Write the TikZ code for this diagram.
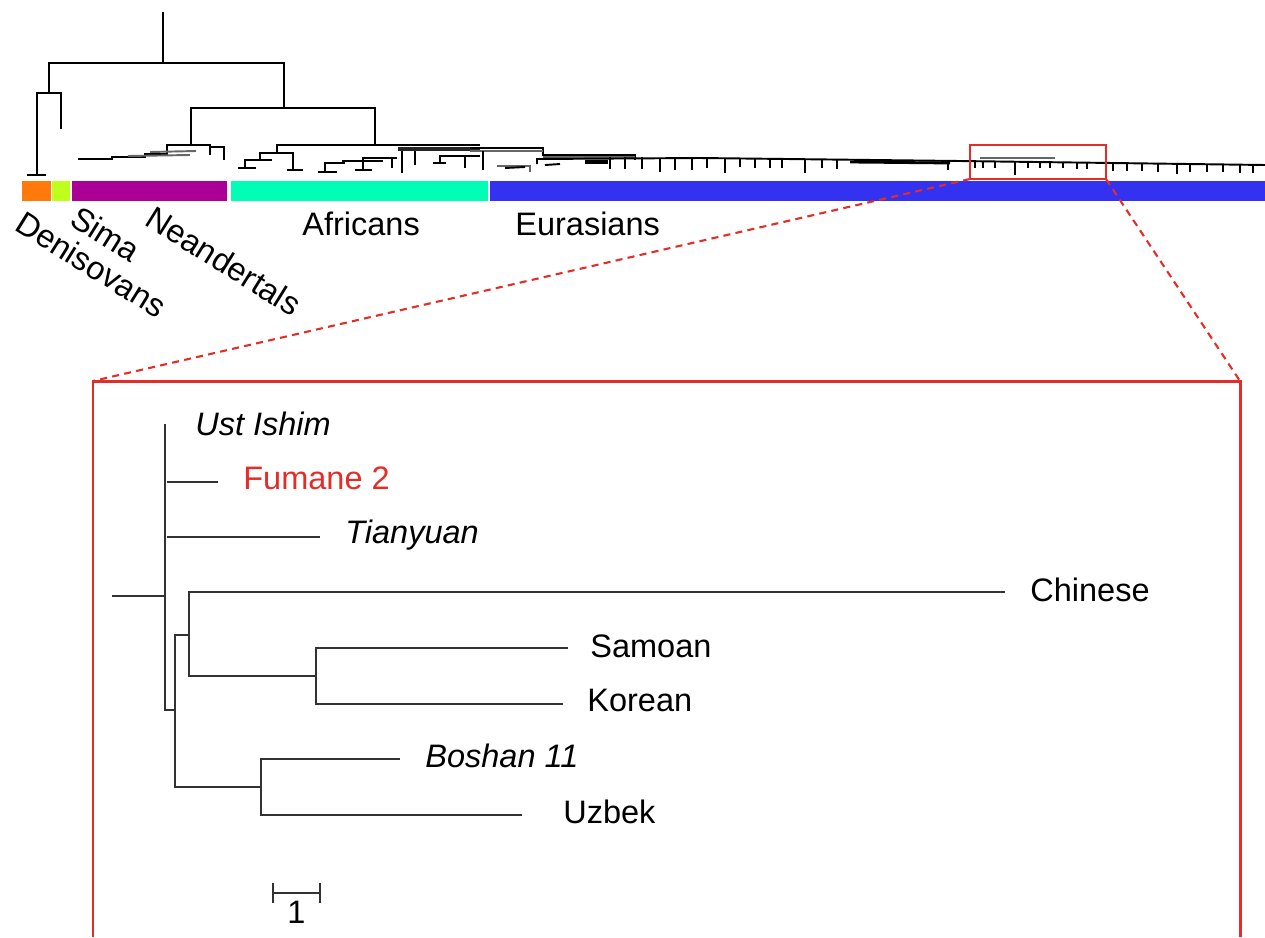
\documentclass[tikz,border=0pt]{standalone}
\usepackage{fontspec}
\setmainfont{Liberation Sans}
\usepackage{tikz}
\usetikzlibrary{arrows.meta,positioning,calc}

\definecolor{denicol}{RGB}{255,122,10}
\definecolor{simacol}{RGB}{190,255,30}
\definecolor{neancol}{RGB}{170,0,150}
\definecolor{africol}{RGB}{0,255,180}
\definecolor{eurcol}{RGB}{50,50,240}
\definecolor{zoomred}{RGB}{228,45,40}
\definecolor{treegray}{RGB}{50,50,50}

\tikzset{
  twig/.style={line width=1.1pt, black},
  branch/.style={line width=1.3pt, treegray},
  leaf/.style={anchor=base west, inner sep=0pt, font=\fontsize{18.5pt}{22pt}\selectfont},
  leafit/.style={leaf, font=\fontsize{18.5pt}{22pt}\selectfont\itshape},
  grouplabel/.style={leaf, rotate=-32},
  zoomline/.style={zoomred, line width=1.2pt, dash pattern=on 4pt off 3pt},
}

\begin{document}
\begin{tikzpicture}[x=0.02cm, y=-0.02cm]
\useasboundingbox (0,0) rectangle (1265,937);
% Deep splits of the big tree
\draw[twig] (163,12) -- (163,63);
\draw[twig] (49,93) -- (49,63) -- (284,63) -- (284,108);
\draw[twig] (37,175) -- (37,93) -- (61,93) -- (61,129);
\draw[twig] (27,175) -- (46,175);
\draw[twig] (191,145) -- (191,108) -- (375,108) -- (375,145);
% Neandertals
\draw[twig] (78,159) -- (112,159) -- (112,157) -- (145,157) -- (145,154) -- (167,154) -- (167,145) -- (210,145) -- (210,155);
\draw[twig] (210,147) -- (224,147) -- (224,160);
\draw[twig, black!60] (128,156) -- (190,155);
\draw[twig, black!60] (150,152) -- (196,151);
% Africans
\draw[twig] (277,153) -- (277,145) -- (480,145);
\draw[twig] (260,160) -- (260,153) -- (293,153) -- (293,170);
\draw[twig] (287,170) -- (303,170);
\draw[twig] (245,167) -- (245,160) -- (272,160);
\draw[twig] (238,168) -- (256,168);
\draw[twig] (325,172) -- (325,163) -- (345,163);
\draw[twig] (318,172) -- (337,172);
\draw[twig] (343,163) -- (343,161) -- (383,161);
\draw[twig] (363,170) -- (363,158) -- (397,158);
\draw[twig] (355,170) -- (372,170);
\draw[twig] (392,168) -- (392,158);
\draw[twig] (402,173) -- (402,148);
\draw[twig] (415,165) -- (415,148);
\draw[twig, line width=1.9pt, black!85] (398,149) -- (480,149);
\draw[twig] (440,163) -- (440,156) -- (480,156);
\draw[twig] (465,168) -- (465,156);
\draw[twig] (433,163) -- (446,163);
% Eurasians
\draw[twig] (470,148) -- (543,148) -- (543,155) -- (635,155) -- (635,160);
\draw[twig, black!60] (470,151) -- (543,151);
\draw[twig, black!60] (543,157) -- (635,157);
\draw[twig] (483,151) -- (483,170);
\draw[twig] (537,164) -- (537,159) -- (700,158) -- (960,161) -- (1265,165);
\draw[twig, black!60] (497,166) -- (530,166) -- (530,172);
\draw[twig] (505,168) -- (525,167);
\draw[twig] (545,165) -- (560,164);
\draw[twig, line width=1.8pt] (585,162) -- (608,162);
\draw[twig, line width=1.6pt] (850,162) -- (950,163);
\draw[twig, black!60] (980,158) -- (1055,158);
\foreach \x/\l in {610/12,625/12,642/12,660/14,675/12,692/12,707/10,725/15,740/9,755/9,770/9,782/9,
                   805/14,822/9,837/9,948/9,975/7,983/7,995/7,1015/13,1028/6,1040/6,1050/6,1063/6,
                   1077/6,1087/6,1113/8,1127/8,1142/8,1158/8,1177/10,1190/8,1207/8,1223/8,1240/8,1253/8} {
  \pgfmathsetmacro{\yb}{\x<960 ? 158+(\x-700)*0.0115 : 161+(\x-960)*0.0131}
  \draw[twig] (\x,\yb) -- ++(0,\l);
}
% Colour bar
\fill[denicol] (22,181) rectangle (51,201);
\fill[simacol] (52,181) rectangle (70,201);
\fill[neancol] (72,181) rectangle (227,201);
\fill[africol] (231,181) rectangle (488,201);
\fill[eurcol] (490,181) rectangle (1265,201);
\node[grouplabel] (deni) at (13,229) {Denisovans};
\node[grouplabel] (sima) at (68,224) {Sima};
\node[grouplabel] (nean) at (143,224) {Neandertals};
\node[leaf] (afri) at (302,235) {Africans};
\node[leaf] (eura) at (515,235) {Eurasians};
% Zoom box and inset frame
\draw[zoomred, line width=1.4pt] (970,145) rectangle (1106,179);
\coordinate (zbSW) at (970,179);
\coordinate (zbSE) at (1106,179);
\coordinate (insNW) at (93,381);
\coordinate (insNE) at (1240,381);
\draw[zoomline] (zbSW) -- (insNW);
\draw[zoomline] (zbSE) -- (insNE);
\draw[zoomred, line width=1.7pt] (93,937) -- (insNW) -- (insNE) -- (1240,937);
% Inset tree
\coordinate (root) at (112,596);
\coordinate (r) at (165,596);
\coordinate (ea) at (175,710);
\coordinate (easia) at (189,635);
\coordinate (sk) at (316,676);
\coordinate (bu) at (261,787);
\coordinate (tUst) at (165,424);
\coordinate (tFum) at (218,482);
\coordinate (tTian) at (320,537);
\coordinate (tChin) at (1005,592);
\coordinate (tSam) at (568,648);
\coordinate (tKor) at (563,704);
\coordinate (tBos) at (400,759);
\coordinate (tUzb) at (522,815);
\draw[branch] (root) -- (r);
\draw[branch] (r) |- (tUst);
\draw[branch] (r) |- (ea);
\draw[branch] ($(r|-tFum)+(2,0)$) -- (tFum);
\draw[branch] ($(r|-tTian)+(2,0)$) -- (tTian);
\draw[branch] (ea) |- (easia);
\draw[branch] (ea) |- (bu);
\draw[branch] (easia) |- (tChin);
\draw[branch] (easia) |- (sk);
\draw[branch] (sk) |- (tSam);
\draw[branch] (sk) |- (tKor);
\draw[branch] (bu) |- (tBos);
\draw[branch] (bu) |- (tUzb);
\node[leafit] (lUst) at (195,435) {Ust Ishim};
\node[leaf, text=zoomred] (lFum) at (243,489) {Fumane 2};
\node[leafit] (lTian) at (345,543) {Tianyuan};
\node[leaf] (lChin) at (1030,601) {Chinese};
\node[leaf] (lSam) at (590,657) {Samoan};
\node[leaf] (lKor) at (587,711) {Korean};
\node[leafit] (lBos) at (425,767) {Boshan 11};
\node[leaf] (lUzb) at (563,823) {Uzbek};
% Scale bar
\coordinate (sbL) at (272,893);
\coordinate (sbR) at (321,893);
\draw[branch, {Bar[width=0.4cm]}-{Bar[width=0.4cm]}] (sbL) -- (sbR);
\node[leaf, anchor=center] (sbText) at ($(sbL)!0.5!(sbR)+(0,19)$) {1};
\end{tikzpicture}
\end{document}
